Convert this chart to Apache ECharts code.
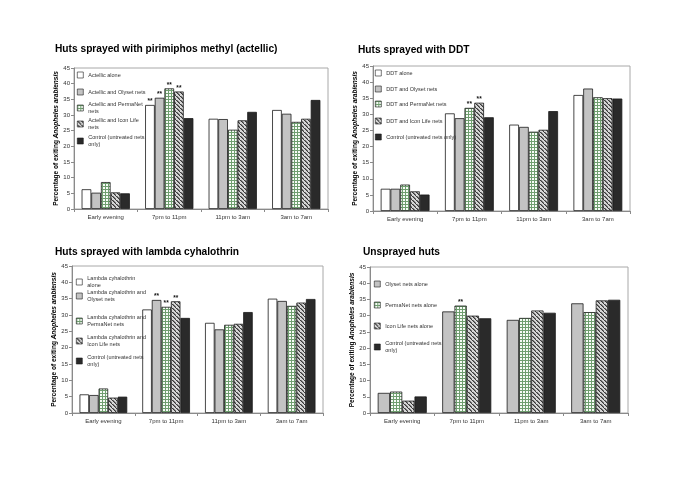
<!DOCTYPE html>
<html><head><meta charset="utf-8">
<script src="https://cdn.jsdelivr.net/npm/echarts@6/dist/echarts.min.js"></script>
<style>html,body{margin:0;padding:0;background:#fff}#c{width:685px;height:484px}</style>
</head><body><div id="c"></div>
<script>
const categories = ['Early evening', '7pm to 11pm', '11pm to 3am', '3am to 7am'];
const yMin = 0, yMax = 45, yStep = 5;

// Panel 1: pirimiphos methyl (actellic)
const p1Title = 'Huts sprayed with pirimiphos methyl (actellic)';
const p1Names = ['Actellic alone', 'Actellic and Olyset nets', 'Actellic and PermaNet\nnets', 'Actellic and Icon Life\nnets', 'Control (untreated nets\nonly)'];
const p1Alone = [6.3, 33.2, 28.8, 31.6];
const p1Olyset = [5.2, 35.5, 28.7, 30.4];
const p1PermaNet = [8.6, 38.5, 25.3, 27.8];
const p1IconLife = [5.3, 37.5, 28.3, 28.8];
const p1Control = [5.0, 29.0, 31.0, 34.8];
const p1Sig = [[0,1,0,0],[0,1,0,0],[0,1,0,0],[0,1,0,0],[0,0,0,0]];

// Panel 2: DDT
const p2Title = 'Huts sprayed with DDT';
const p2Names = ['DDT alone', 'DDT and Olyset nets', 'DDT and PermaNet nets', 'DDT and Icon Life nets', 'Control (untreated nets only)'];
const p2Alone = [6.9, 30.3, 26.8, 36.0];
const p2Olyset = [6.9, 28.8, 26.1, 38.0];
const p2PermaNet = [8.2, 32.0, 24.6, 35.3];
const p2IconLife = [6.1, 33.6, 25.2, 35.0];
const p2Control = [5.1, 29.1, 31.0, 34.9];
const p2Sig = [[0,0,0,0],[0,0,0,0],[0,1,0,0],[0,1,0,0],[0,0,0,0]];

// Panel 3: lambda cyhalothrin
const p3Title = 'Huts sprayed with lambda cyhalothrin';
const p3Names = ['Lambda cyhalothrin\nalone', 'Lambda cyhalothrin and\nOlyset nets', 'Lambda cyhalothrin and\nPermaNet nets', 'Lambda cyhalothrin and\nIcon Life nets', 'Control (untreated nets\nonly)'];
const p3Alone = [5.7, 31.7, 27.6, 35.0];
const p3Olyset = [5.5, 34.6, 25.6, 34.3];
const p3PermaNet = [7.5, 32.5, 27.0, 32.8];
const p3IconLife = [4.7, 34.2, 27.3, 33.8];
const p3Control = [5.0, 29.1, 30.9, 34.9];
const p3Sig = [[0,0,0,0],[0,1,0,0],[0,1,0,0],[0,1,0,0],[0,0,0,0]];

// Panel 4: unsprayed
const p4Title = 'Unsprayed huts';
const p4Names = ['Olyset nets alone', 'PermaNet nets alone', 'Icon Life nets alone', 'Control (untreated nets\nonly)'];
const p4Olyset = [6.2, 31.3, 28.7, 33.8];
const p4PermaNet = [6.6, 33.1, 29.3, 31.1];
const p4IconLife = [3.8, 30.0, 31.6, 34.7];
const p4Control = [5.1, 29.2, 30.9, 34.9];
const p4Sig = [[0,0,0,0],[0,1,0,0],[0,0,0,0],[0,0,0,0]];

// ---------- styles ----------
function makeTile(size, draw) {
  const c = document.createElement('canvas');
  c.width = size; c.height = size;
  const g = c.getContext('2d');
  draw(g);
  return c;
}
const gridTile = makeTile(3, g => {
  g.fillStyle = '#f6fbf6'; g.fillRect(0, 0, 3, 3);
  g.fillStyle = '#6f9e6f'; g.fillRect(0, 0, 3, 1); g.fillRect(0, 0, 1, 3);
});
const hatchTile = makeTile(4, g => {
  g.fillStyle = '#d6d6d6'; g.fillRect(0, 0, 4, 4);
  g.fillStyle = '#3a3a3a'; for (let i = 0; i < 4; i++) g.fillRect(i, i, 1, 1);
  g.fillStyle = '#7a7a7a'; for (let i = 0; i < 3; i++) g.fillRect(i + 1, i, 1, 1);
});
const bdr = { borderColor: '#1a1a1a', borderWidth: 0.8 };
const styles = {
  white: Object.assign({ color: '#ffffff' }, bdr),
  gray: Object.assign({ color: '#c3c3c3' }, bdr),
  grid: Object.assign({ color: { image: gridTile, repeat: 'repeat' } }, bdr),
  hatch: Object.assign({ color: { image: hatchTile, repeat: 'repeat' } }, bdr),
  black: Object.assign({ color: '#2a2a2a' }, bdr)
};

const FONT = '"Liberation Sans", Arial, sans-serif';

const panels = [
  { title: p1Title, titlePos: [55, 44], names: p1Names, data: [p1Alone, p1Olyset, p1PermaNet, p1IconLife, p1Control], sig: p1Sig,
    kinds: ['white','gray','grid','hatch','black'], grid: { left: 74, top: 68, width: 254, height: 141 },
    legLeft: 77, legY: [75, 92, 108, 124, 141] },
  { title: p2Title, titlePos: [358, 45], names: p2Names, data: [p2Alone, p2Olyset, p2PermaNet, p2IconLife, p2Control], sig: p2Sig,
    kinds: ['white','gray','grid','hatch','black'], grid: { left: 373, top: 66, width: 257, height: 145 },
    legLeft: 375, legY: [73, 89, 104, 121, 137] },
  { title: p3Title, titlePos: [55, 247], names: p3Names, data: [p3Alone, p3Olyset, p3PermaNet, p3IconLife, p3Control], sig: p3Sig,
    kinds: ['white','gray','grid','hatch','black'], grid: { left: 72, top: 266, width: 251, height: 147 },
    legLeft: 76, legY: [282, 296, 321, 341, 361] },
  { title: p4Title, titlePos: [363, 247], names: p4Names, data: [p4Olyset, p4PermaNet, p4IconLife, p4Control], sig: p4Sig,
    kinds: ['gray','grid','hatch','black'], grid: { left: 370, top: 267, width: 258, height: 146 },
    legLeft: 374, legY: [284, 305, 326, 347] }
];

const option = { animation: false, backgroundColor: '#fff', title: [], grid: [], xAxis: [], yAxis: [], legend: [], series: [] };

panels.forEach((p, pi) => {
  option.title.push({ text: p.title, left: p.titlePos[0], top: p.titlePos[1], padding: 0,
    textStyle: { fontFamily: FONT, fontSize: 10.2, fontWeight: 'bold', color: '#000' } });
  option.grid.push(Object.assign({ show: true, borderColor: '#a8a8a8', borderWidth: 1, backgroundColor: 'transparent' }, p.grid));
  option.xAxis.push({ type: 'category', gridIndex: pi, data: categories,
    axisLine: { lineStyle: { color: '#8a8a8a', width: 1 } },
    axisTick: { show: true, length: 3, lineStyle: { color: '#8a8a8a' } },
    axisLabel: { fontFamily: FONT, fontSize: 6, color: '#333', margin: 5 } });
  option.yAxis.push({ type: 'value', gridIndex: pi, min: yMin, max: yMax, interval: yStep,
    name: 'Percentage of exiting {i|Anopheles arabiensis}', nameLocation: 'middle', nameRotate: 90, nameGap: 14,
    nameTextStyle: { fontFamily: FONT, fontSize: 6.5, fontWeight: 'bold', color: '#000',
      rich: { i: { fontFamily: FONT, fontSize: 6.5, fontWeight: 'bold', fontStyle: 'italic', color: '#000' } } },
    splitLine: { show: false },
    axisLine: { show: true, lineStyle: { color: '#8a8a8a', width: 1 } },
    axisTick: { show: true, length: 3, lineStyle: { color: '#8a8a8a' } },
    axisLabel: { fontFamily: FONT, fontSize: 6, color: '#333', margin: 4 } });
  p.names.forEach((name, si) => {
    const two = name.indexOf('\n') >= 0;
    const st = styles[p.kinds[si]];
    option.legend.push({ data: [name], orient: 'vertical', left: p.legLeft, top: p.legY[si] - (two ? 10.5 : 3.5),
      padding: 0, itemWidth: 6, itemHeight: 6, icon: 'rect', itemGap: 0, selectedMode: false,
      itemStyle: { color: st.color, borderColor: '#1a1a1a', borderWidth: 0.6 },
      textStyle: { fontFamily: FONT, fontSize: 5.5, color: '#333', lineHeight: 7, padding: two ? [7, 0, 0, 0] : 0 } });
    option.series.push({
      type: 'bar', name: name, xAxisIndex: pi, yAxisIndex: pi,
      barGap: '0%', barCategoryGap: '24%',
      itemStyle: st,
      label: { show: false, position: 'top', distance: 0, formatter: '**', fontFamily: FONT, fontSize: 6.5, fontWeight: 'bold', color: '#111' },
      data: p.data[si].map((v, ci) => ({ value: v, label: { show: p.sig[si][ci] === 1 } }))
    });
  });
});

const chart = echarts.init(document.getElementById('c'), null, { renderer: 'canvas' });
chart.setOption(option);
</script></body></html>
